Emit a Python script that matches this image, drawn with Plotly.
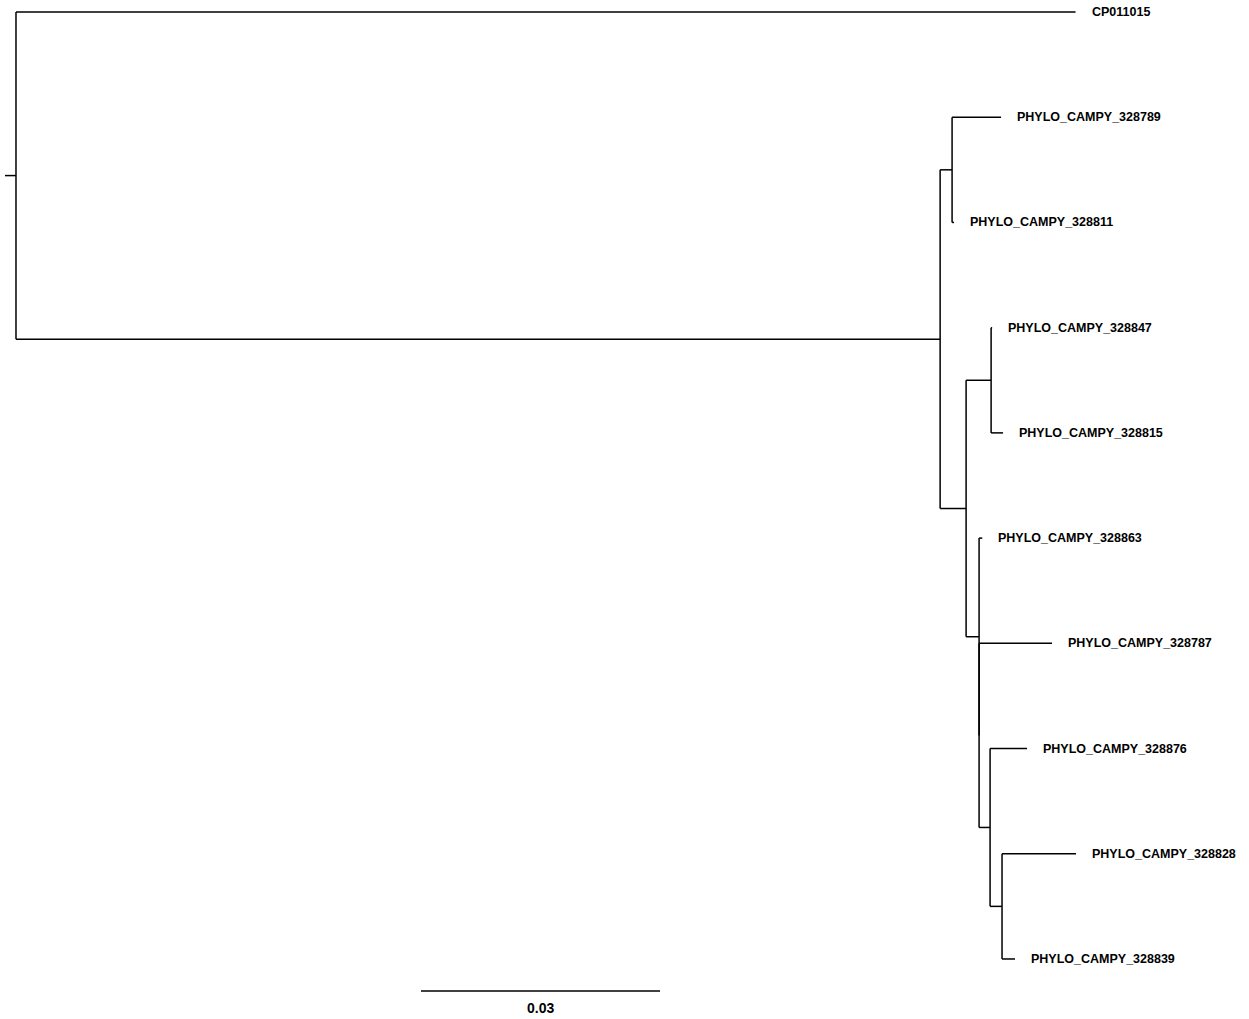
import plotly.graph_objects as go

# ---- tree data ----
node_names = ["root", "CP011015", "n1", "n2", "PHYLO_CAMPY_328789", "PHYLO_CAMPY_328811",
              "n3", "n4", "PHYLO_CAMPY_328847", "PHYLO_CAMPY_328815",
              "n5", "PHYLO_CAMPY_328863", "n6", "PHYLO_CAMPY_328787",
              "n7", "PHYLO_CAMPY_328876", "n8", "PHYLO_CAMPY_328828", "PHYLO_CAMPY_328839"]
parents = [None, "root", "root", "n1", "n2", "n2",
           "n1", "n3", "n4", "n4",
           "n3", "n5", "n5", "n6",
           "n6", "n7", "n7", "n8", "n8"]
branch_lengths = [0.00138, 0.1330, 0.1160, 0.0015, 0.00615, 0.00025,
                  0.00326, 0.00314, 0.00013, 0.0015,
                  0.00163, 0.0004, 0.0, 0.00916,
                  0.00138, 0.00464, 0.0015, 0.00929, 0.00163]
scale_value = 0.03
scale_label = "0.03"

# ---- layout of the tree ----
children = {n: [] for n in node_names}
for n, p in zip(node_names, parents):
    if p is not None:
        children[p].append(n)
blen = dict(zip(node_names, branch_lengths))
par = dict(zip(node_names, parents))

xpos, ypos = {}, {}
leaf_counter = [0]


def layout(n, x0):
    xpos[n] = x0 + blen[n]
    if not children[n]:
        ypos[n] = leaf_counter[0]
        leaf_counter[0] += 1
    else:
        for c in children[n]:
            layout(c, xpos[n])
        ypos[n] = (ypos[children[n][0]] + ypos[children[n][-1]]) / 2


layout("root", 0.0)

xs, ys = [], []
for n in node_names:
    p = par[n]
    x_start = xpos[p] if p is not None else 0.0
    xs += [x_start, xpos[n], None]
    ys += [ypos[n], ypos[n], None]
    if children[n]:
        xs += [xpos[n], xpos[n], None]
        ys += [ypos[children[n][0]], ypos[children[n][-1]], None]

fig = go.Figure()
fig.add_trace(go.Scatter(x=xs, y=ys, mode="lines",
                         line=dict(color="black", width=1.5),
                         hoverinfo="skip", showlegend=False))

annotations = []
for n in node_names:
    if not children[n]:
        annotations.append(dict(x=xpos[n], y=ypos[n], text=n, showarrow=False,
                                xanchor="left", yanchor="middle", xshift=14,
                                font=dict(family="Liberation Sans, Arial", size=12.5,
                                          color="black", weight="bold")))

W, H = 1249, 1019
px_per_unit = 239 / scale_value
x_left = -5 / px_per_unit
x_right = (W - 5) / px_per_unit
leaf_gap = 105.22
y_top = -12 / leaf_gap
y_bot = (H - 12) / leaf_gap
sb_x0 = (421 - 5) / px_per_unit
sb_y = (991 - 12) / leaf_gap
fig.add_trace(go.Scatter(x=[sb_x0, sb_x0 + scale_value], y=[sb_y, sb_y], mode="lines",
                         line=dict(color="black", width=1.5),
                         hoverinfo="skip", showlegend=False))
annotations.append(dict(x=sb_x0 + scale_value / 2, y=(1008 - 12) / leaf_gap,
                        text=scale_label, showarrow=False, xanchor="center",
                        yanchor="middle",
                        font=dict(family="Liberation Sans, Arial", size=14,
                                  color="black", weight="bold")))

fig.update_layout(
    width=W, height=H,
    margin=dict(l=0, r=0, t=0, b=0),
    paper_bgcolor="white", plot_bgcolor="white",
    annotations=annotations,
    hovermode=False,
    xaxis=dict(range=[x_left, x_right], visible=False, showgrid=False, zeroline=False),
    yaxis=dict(range=[y_bot, y_top], visible=False, showgrid=False, zeroline=False),
)
fig.write_html("out.html", config={"displayModeBar": False},
               post_script="document.body.style.margin='0';document.body.style.overflow='hidden';")
